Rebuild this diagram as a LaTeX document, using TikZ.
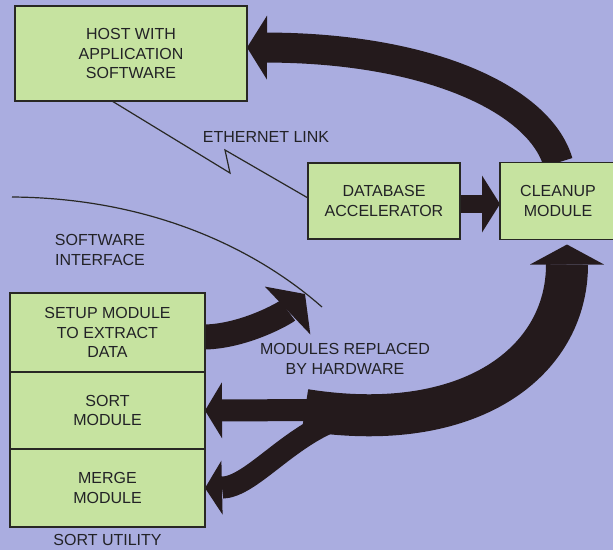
\documentclass[tikz,border=0pt]{standalone}
\usepackage{fontspec}
\setmainfont{Liberation Sans}
\usetikzlibrary{arrows.meta, positioning, backgrounds}
\definecolor{bgLav}{RGB}{170,173,224}
\definecolor{boxGreen}{RGB}{198,227,160}
\definecolor{boxEdge}{RGB}{40,40,36}
\definecolor{inkDark}{RGB}{36,26,28}
\definecolor{txtDark}{RGB}{34,34,38}

\begin{document}
\begin{tikzpicture}[
    x=1pt, y=-1pt,
    box/.style={rectangle, draw=boxEdge, line width=1.3pt, fill=boxGreen, align=center, inner sep=0pt, outer sep=0pt, text=txtDark, font=\fontsize{16}{19.5}\selectfont},
    lbl/.style={align=center, inner sep=0pt, text=txtDark, font=\fontsize{16}{19.5}\selectfont},
    fat/.style={draw=inkDark, line cap=butt},
    wire/.style={draw=boxEdge, line width=1.2pt}
]
\path[use as bounding box] (0,0) rectangle (613,550);

% --- Top: host, accelerator, cleanup ---
\node[box, minimum width=232pt, minimum height=95pt] (host) at (131,53.5)
    {HOST WITH\\APPLICATION\\SOFTWARE};

\node[box, minimum width=152pt, minimum height=76pt] (db) at (384,201)
    {DATABASE\\ACCELERATOR};

\node[box, minimum width=116pt, minimum height=77pt, right=40pt of db] (clean)
    {CLEANUP\\MODULE};

% --- Left: sort utility stack ---
\node[box, minimum width=195pt, minimum height=79pt] (setup) at (107.5,332.5)
    {SETUP MODULE\\TO EXTRACT\\DATA};

\node[box, minimum width=195pt, minimum height=77pt, below=0pt of setup] (sort)
    {SORT\\MODULE};

\node[box, minimum width=195pt, minimum height=78pt, below=0pt of sort] (merge)
    {MERGE\\MODULE};

\node[lbl, below=7pt of merge] (util) {SORT UTILITY};

% --- Free labels ---
\node[lbl] (eth) at (266,137) {ETHERNET LINK};
\node[lbl] (swif) at (100,250) {SOFTWARE\\INTERFACE};
\node[lbl] (hw) at (345,359) {MODULES REPLACED\\BY HARDWARE};

% === LINES ===
% software interface boundary
\coordinate (ifA) at (12,197);
\coordinate (ifB) at (322,307);
\draw[wire] (ifA) .. controls (150,198) and (255,248) .. (ifB);

% ethernet link with zigzag
\coordinate (zigA) at (230,173);
\coordinate (zigB) at (225,150);
\draw[wire, line join=miter] ([xshift=97pt]host.south west) -- (zigA) -- (zigB) -- ([yshift=3pt]db.west);

% === FAT ARROWS (behind the boxes) ===
\begin{scope}[on background layer]
\fill[bgLav] (0,0) rectangle (613,550);

% accelerator -> cleanup
\draw[fat, line width=18pt, -{Triangle[length=18pt, width=57pt, line width=0pt]}]
    ([yshift=-3pt]db.east) -- ([yshift=-3pt]db.east -| clean.west);

% cleanup -> host
\draw[fat, line width=30pt, -{Triangle[length=20pt, width=64pt, line width=0pt]}]
    (clean.north) .. controls (540,100) and (430,48) .. ([yshift=6pt]host.east);

% setup -> software interface
\coordinate (ifTip) at (305,294);
\draw[fat, line width=25pt, -{Triangle[length=24pt, width=66pt, line width=0pt]}]
    ([yshift=-4.5pt]setup.east) .. controls (245,336) and (285,313) .. (ifTip);

% cleanup <-> sort / merge
\coordinate (split) at (305,410);
\coordinate (fork) at (335,420);
\draw[fat, line width=22pt, -{Triangle[length=17pt, width=56pt, line width=0pt]}]
    ([xshift=20pt]split) -- (sort.east);
\draw[fat, line width=22pt, -{Triangle[length=17pt, width=54pt, line width=0pt]}]
    (fork) .. controls (285,440) and (250,487) .. (merge.east);
\draw[fat, line width=42pt, -{Triangle[length=20pt, width=74pt, line width=0pt]}]
    (split) .. controls (470,436) and (567,362) .. ([xshift=9pt, yshift=-5pt]clean.south);
\end{scope}

\end{tikzpicture}
\end{document}
